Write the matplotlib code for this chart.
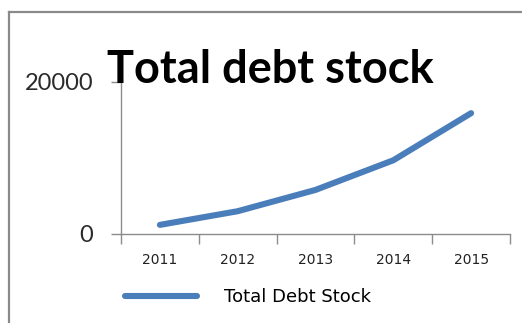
import matplotlib.pyplot as plt
from matplotlib.lines import Line2D

W, H = 522, 323
DPI = 100

years = ["2011", "2012", "2013", "2014", "2015"]
debt_stock = [1200, 3000, 5800, 9700, 15900]
y_ticks = [0, 20000]

LINE_COLOR = "#4a7ebb"
AXIS_COLOR = "#8c8c8c"
FRAME_COLOR = "#8a8a8a"


def px(x, y):
    """Pixel position (from top-left) to figure fraction."""
    return x / W, 1 - y / H


fig = plt.figure(figsize=(W / DPI, H / DPI), dpi=DPI)
fig.patch.set_facecolor("white")

# outer chart frame (only top and left edges are in view)
fig.add_artist(Line2D([9 / W, 1.0], [1 - 12 / H] * 2, color=FRAME_COLOR, lw=1.6))
fig.add_artist(Line2D([9 / W] * 2, [1 - 12 / H, 0.0], color=FRAME_COLOR, lw=1.6))

left, top = px(121, 82)
right, bottom = px(510, 234)
ax = fig.add_axes([left, bottom, right - left, top - bottom])

centers = [i + 0.5 for i in range(len(years))]
ax.plot(centers, debt_stock, color=LINE_COLOR, lw=4.4,
        solid_capstyle="round", solid_joinstyle="round", label="Total Debt Stock")

ax.set_xlim(0, len(years))
ax.set_ylim(y_ticks[0], y_ticks[-1])

# category boundaries as major ticks, year labels as minor ticks
ax.set_xticks(range(len(years) + 1))
ax.set_xticklabels([])
ax.set_xticks(centers, minor=True)
ax.set_xticklabels(years, minor=True, fontsize=10, family="DejaVu Sans", color="#222222")
ax.tick_params(axis="x", which="major", direction="out", length=7, color=AXIS_COLOR, width=1)
ax.tick_params(axis="x", which="minor", length=0, pad=14)

ax.set_yticks(y_ticks)
ax.set_yticklabels([str(v) for v in y_ticks], fontsize=17, family="Lato", color="#2a2a2a")
ax.tick_params(axis="y", direction="out", length=7, color=AXIS_COLOR, width=1, pad=13)

for side in ("top", "right"):
    ax.spines[side].set_visible(False)
for side in ("left", "bottom"):
    ax.spines[side].set_color(AXIS_COLOR)
    ax.spines[side].set_linewidth(1)

# title overlapping the top of the plot
tx, ty = px(107, 83)
fig.text(tx, ty, "Total debt stock", fontsize=32.5, fontweight="bold",
         family="Lato", color="black", va="baseline", ha="left")

lx, ly = px(125, 297)
fig.legend(loc="center left", bbox_to_anchor=(lx, ly), frameon=False,
           handlelength=4.0, handletextpad=1.5, borderpad=0, borderaxespad=0,
           prop={"family": "DejaVu Sans", "size": 13})

fig.savefig("out.png", dpi=DPI, facecolor="white")
